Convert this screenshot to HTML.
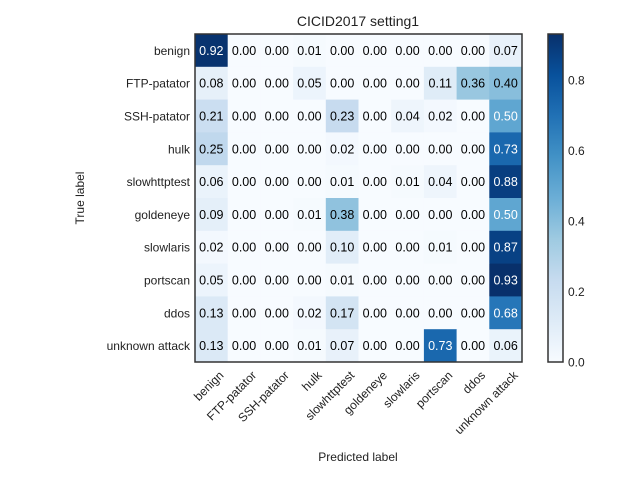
<!DOCTYPE html>
<html><head><meta charset="utf-8"><style>
body{margin:0;background:#fff;}
svg text{font-family:"Liberation Sans","DejaVu Sans",sans-serif;}
</style></head><body>
<svg id="c" width="640" height="480" viewBox="0 0 640 480" xmlns="http://www.w3.org/2000/svg">
<text x="358" y="26" font-size="14" text-anchor="middle" fill="#222">CICID2017 setting1</text>
<text x="358" y="461" font-size="12" text-anchor="middle" fill="#222">Predicted label</text>
<text transform="translate(84,198) rotate(-90)" font-size="12" text-anchor="middle" fill="#222">True label</text>
<g id="cells"></g>
<rect x="195" y="34" width="327" height="328" fill="none" stroke="#333" stroke-width="1.5"/>
<defs><linearGradient id="cb" x1="0" y1="1" x2="0" y2="0"></linearGradient></defs>
<rect x="548" y="34" width="15" height="328" fill="url(#cb)" stroke="#333" stroke-width="1.5"/>
<g id="cbt"></g>
</svg>
<script>
const labels=["benign","FTP-patator","SSH-patator","hulk","slowhttptest","goldeneye","slowlaris","portscan","ddos","unknown attack"];
const row0=[0.92,0.00,0.00,0.01,0.00,0.00,0.00,0.00,0.00,0.07];
const row1=[0.08,0.00,0.00,0.05,0.00,0.00,0.00,0.11,0.36,0.40];
const row2=[0.21,0.00,0.00,0.00,0.23,0.00,0.04,0.02,0.00,0.50];
const row3=[0.25,0.00,0.00,0.00,0.02,0.00,0.00,0.00,0.00,0.73];
const row4=[0.06,0.00,0.00,0.00,0.01,0.00,0.01,0.04,0.00,0.88];
const row5=[0.09,0.00,0.00,0.01,0.38,0.00,0.00,0.00,0.00,0.50];
const row6=[0.02,0.00,0.00,0.00,0.10,0.00,0.00,0.01,0.00,0.87];
const row7=[0.05,0.00,0.00,0.00,0.01,0.00,0.00,0.00,0.00,0.93];
const row8=[0.13,0.00,0.00,0.02,0.17,0.00,0.00,0.00,0.00,0.68];
const row9=[0.13,0.00,0.00,0.01,0.07,0.00,0.00,0.73,0.00,0.06];
const cbTicks=[0.0,0.2,0.4,0.6,0.8];
const rows=[row0,row1,row2,row3,row4,row5,row6,row7,row8,row9];
const vmax=0.93;
const X0=195,Y0=34,W=327,H=328,n=labels.length,cw=W/n,ch=H/n;
const blues=[[247,251,255],[222,235,247],[198,219,239],[158,202,225],[107,174,214],[66,146,198],[33,113,181],[8,81,156],[8,48,107]];
function col(v){let t=Math.max(0,Math.min(1,v/vmax))*(blues.length-1);let i=Math.min(Math.floor(t),blues.length-2),f=t-i;
const c=blues[i].map((a,k)=>Math.round(a+(blues[i+1][k]-a)*f));return `rgb(${c})`;}
const NS="http://www.w3.org/2000/svg",svg=document.getElementById('c');
function mk(t,a,p){const e=document.createElementNS(NS,t);for(const k in a)e.setAttribute(k,a[k]);(p||svg).appendChild(e);return e;}
const g=document.getElementById('cells');
rows.forEach((r,i)=>r.forEach((v,j)=>{
 const rc=mk('rect',{x:X0+j*cw,y:Y0+i*ch,width:cw+0.5,height:ch+0.5,fill:col(v)},g);
 
 
 const tx=mk('text',{x:X0+(j+0.5)*cw,y:Y0+(i+0.5)*ch+4.5,'font-size':12.5,'text-anchor':'middle',fill:v>vmax/2?'#fff':'#000'},g);
 tx.textContent=v.toFixed(2);
 
 
}));
labels.forEach((l,i)=>{
 const t=mk('text',{x:X0-5,y:Y0+(i+0.5)*ch+4.5,'font-size':12,'text-anchor':'end',fill:'#222'});
 t.textContent=l;
 
 
 const x=X0+(i+0.5)*cw;
 const u=mk('text',{transform:`translate(${x+13},${Y0+H+14}) rotate(-45)`,'font-size':12,'text-anchor':'end',fill:'#222'});
 u.textContent=l;
 
 
});
const grad=document.getElementById('cb');
blues.forEach((c,k)=>mk('stop',{offset:k/(blues.length-1),'stop-color':`rgb(${c})`},grad));
const cbt=document.getElementById('cbt');
cbTicks.forEach(v=>{
 const y=Y0+H-v/vmax*H;
 const t=mk('text',{x:568,y:y+4.5,'font-size':12,fill:'#222'},cbt);
 t.textContent=v.toFixed(1);
 
 
});
</script>
</body></html>
